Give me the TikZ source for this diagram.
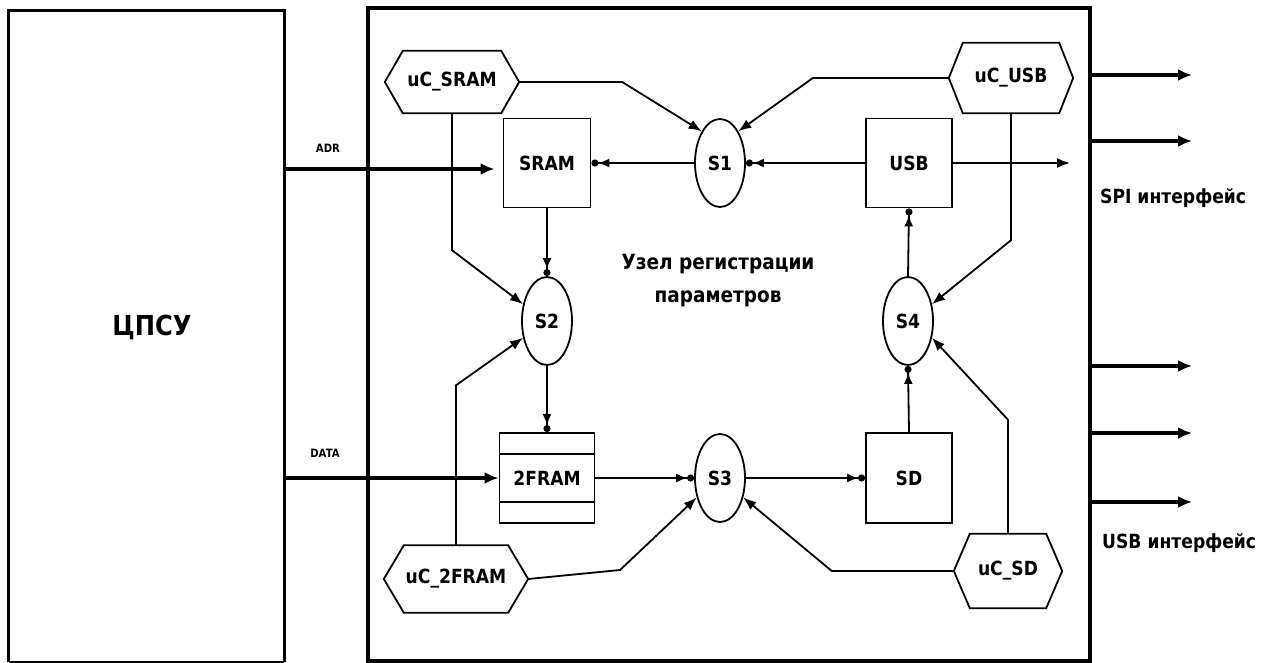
\documentclass[tikz,border=0pt]{standalone}
\usepackage{fontspec}
\setmainfont{DejaVu Sans}[FakeStretch=0.88]
\usetikzlibrary{arrows.meta,shapes.geometric,calc}

% hexagonal outline around a rectangular node: #1 node name, #2 slant inset
\newcommand\hexframe[2]{%
  \draw[wire] (#1.west) -- ([xshift=#2]#1.north west) -- ([xshift=-#2]#1.north east)
    -- (#1.east) -- ([xshift=-#2]#1.south east) -- ([xshift=#2]#1.south west) -- cycle;}

\begin{document}
\begin{tikzpicture}[x=1pt,y=-1pt,
  every node/.style={font=\bfseries\fontsize{19.5}{21}\selectfont, inner sep=0pt},
  wire/.style={line width=1.8pt},
  box/.style={draw, wire, minimum width=87pt, minimum height=89pt},
  sel/.style={draw, ellipse, wire, minimum width=50pt, minimum height=88pt},
  dotarrow/.style={wire, -{Latex[length=11pt,width=9pt]Circle[length=7pt]}},
  plainarrow/.style={wire, -{Latex[length=13pt,width=10pt]}},
  busarrow/.style={line width=3.2pt, -{Latex[length=14pt,width=12pt]}},
  small/.style={font=\bfseries\fontsize{11.5}{12}\selectfont},
]
\useasboundingbox (0,0) rectangle (1270,663);

% external control unit
\node[minimum width=275pt, minimum height=651pt] (cpsu) at (146.5,336.5) {};
\draw[line width=3pt] (cpsu.south west) -- (cpsu.north west) -- (cpsu.north east) -- (cpsu.south east);
\draw[wire] (cpsu.south west) -- (cpsu.south east);
\node[font=\bfseries\fontsize{27.5}{30}\selectfont] (cpsutext) at (152,327) {ЦПСУ};

% recording unit frame
\node[draw, line width=4pt, minimum width=722pt, minimum height=653pt] (unit) at (729,334.5) {};
\node[align=center, font=\bfseries\fontsize{21}{33}\selectfont] (title) at (718,281)
  {Узел регистрации\\параметров};

% controllers
\node[minimum width=134pt, minimum height=62pt] (usram) at (452,82) {uC\_SRAM};
\node[minimum width=124pt, minimum height=70pt] (uusb) at (1011,78) {uC\_USB};
\node[minimum width=144pt, minimum height=67pt] (ufram) at (456,579) {uC\_2FRAM};
\node[minimum width=108pt, minimum height=74pt] (usd) at (1008,571) {uC\_SD};
\hexframe{usram}{18pt}
\hexframe{uusb}{14pt}
\hexframe{ufram}{20pt}
\hexframe{usd}{16pt}

% memory blocks
\node[box] (sram) at (547,163) {SRAM};
\node[box, minimum width=86pt] (usb) at (909,163) {USB};
\node[box, minimum width=86pt, minimum height=90pt] (sd) at (909,478) {SD};
\node[box, minimum width=95pt, minimum height=90pt] (fram) at (547,478) {2FRAM};
\draw[wire] ($(fram.north west)+(0,22)$) -- ($(fram.north east)+(0,22)$);
\draw[wire] ($(fram.south west)+(0,-22)$) -- ($(fram.south east)+(0,-22)$);

% switches
\node[sel] (s1) at (720,163) {S1};
\node[sel] (s2) at (547,321) {S2};
\node[sel] (s3) at (720,478) {S3};
\node[sel] (s4) at (908,321) {S4};

% data paths
\draw[dotarrow] (s1.west) -- (sram.east);
\draw[dotarrow] (usb.west) -- (s1.east);
\draw[dotarrow] (sram.south) -- (s2.north);
\draw[dotarrow] (s2.south) -- (fram.north);
\draw[dotarrow] (fram.east) -- (s3.west);
\draw[dotarrow] (s3.east) -- (sd.west);
\draw[dotarrow] (sd.north) -- (s4.south);
\draw[dotarrow] (s4.north) -- (usb.south);
\coordinate (usbout) at (1070,163);
\draw[plainarrow] (usb.east) -- (usbout);

% control lines
\draw[plainarrow] (usram.east) -- ++(103,0) -- (s1.120);
\draw[plainarrow] (uusb.west) -- ++(-136,0) -- (s1.60);
\draw[plainarrow] (usram.south) -- ++(0,137) -- (s2.145);
\draw[plainarrow] (ufram.north) -- ++(0,-160) -- (s2.215);
\draw[plainarrow] (ufram.east) -- (620,570) -- (s3.220);
\draw[plainarrow] (usd.west) -- ++(-122,0) -- (s3.320);
\draw[plainarrow] (usd.north) -- ++(0,-114) -- (s4.-35);
\draw[plainarrow] (uusb.south) -- ++(0,127) -- (s4.35);

% buses from the control unit
\coordinate (adr) at (400,169);
\draw[busarrow, shorten >=8pt] (cpsu.east |- adr) -- (sram.west |- adr);
\draw[busarrow] (cpsu.east |- fram.west) -- (fram.west);
\node[small] (adrlabel) at (328,148) {ADR};
\node[small] (datalabel) at (325,453) {DATA};

% external interfaces
\coordinate (o1) at (1192,75);
\coordinate (o2) at (1192,141);
\coordinate (o3) at (1192,366);
\coordinate (o4) at (1192,433);
\coordinate (o5) at (1192,502);
\foreach \o in {o1,o2,o3,o4,o5}
  \draw[busarrow] (unit.east |- \o) -- (\o);
\node[anchor=west] (spi) at (1100,198) {SPI интерфейс};
\node[anchor=west] (usbif) at (1102,543) {USB интерфейс};
\end{tikzpicture}
\end{document}
